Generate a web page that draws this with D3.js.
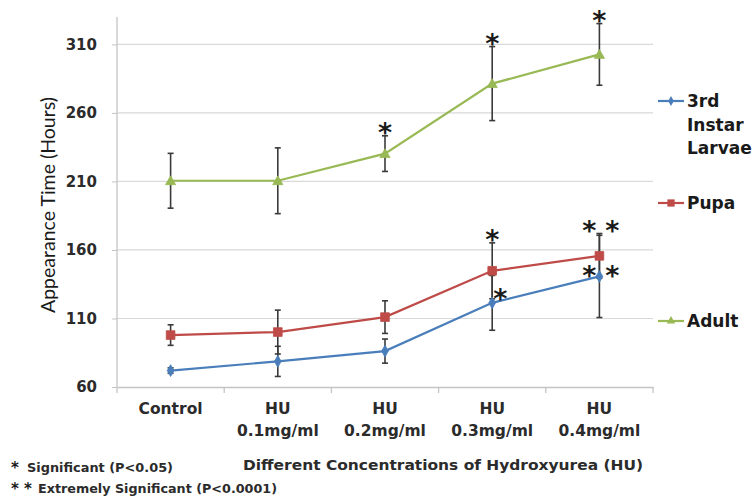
<!DOCTYPE html>
<html><head><meta charset="utf-8">
<script src="https://cdn.jsdelivr.net/npm/d3@7/dist/d3.min.js"></script>
<style>body{margin:0;background:#fff}svg{display:block}</style>
</head><body>
<svg id="c" width="753" height="498"></svg>
<script>
const categories = ["Control", "HU\n0.1mg/ml", "HU\n0.2mg/ml", "HU\n0.3mg/ml", "HU\n0.4mg/ml"];
const larvaeValues = [72, 78.7, 86.2, 121.4, 140.7];
const larvaeErrors = [2, 11, 8.8, 20, 30];
const pupaValues = [97.9, 100.1, 111, 144.8, 155.7];
const pupaErrors = [7.5, 16, 11.9, 20.4, 16.3];
const adultValues = [210.5, 210.5, 230.3, 281.4, 302.7];
const adultErrors = [20, 24, 13, 27, 22.5];
const larvaeSig = ["", "", "", "*", "**"];
const pupaSig = ["", "", "", "*", "**"];
const adultSig = ["", "", "*", "*", "*"];
const yTicks = [60, 110, 160, 210, 260, 310];
const seriesNames = [["3rd", "Instar", "Larvae"], ["Pupa"], ["Adult"]];
const yTitle = "Appearance Time (Hours)";
const xTitle = "Different Concentrations of Hydroxyurea (HU)";
const footnotes = [["*", "Significant (P<0.05)"], ["**", "Extremely Significant (P<0.0001)"]];

const svg = d3.select("#c");
const L = 117, R = 653, T = 17, B = 387;
const x = d3.scaleBand().domain(categories).range([L, R]).padding(0);
const y = d3.scaleLinear().domain([60, 330]).range([B, T]);
const cx = c => x(c) + x.bandwidth() / 2;
const FONT = "'DejaVu Sans', sans-serif";

// gridlines
svg.append("g").selectAll("line").data(yTicks.slice(1)).join("line")
  .attr("x1", L).attr("x2", R).attr("y1", d => y(d)).attr("y2", d => y(d))
  .attr("stroke", "#d9d9d9").attr("stroke-width", 1.2);

// y axis
const ya = svg.append("g").attr("transform", `translate(${L},0)`)
  .call(d3.axisLeft(y).tickValues(yTicks).tickSize(5).tickFormat(d3.format("d")));
ya.select(".domain").attr("stroke", "#c4c4c4").attr("stroke-width", 1.3).attr("d", `M0,${T}V${B}`);
ya.selectAll(".tick line").attr("stroke", "#c4c4c4");
ya.selectAll(".tick text").attr("x", -20).attr("font-family", FONT).attr("font-weight", "bold")
  .attr("font-size", 15).attr("fill", "#2b2b2b");

// x axis
const xa = svg.append("g").attr("transform", `translate(0,${B})`)
  .call(d3.axisBottom(x).tickSize(0).tickFormat(""));
xa.select(".domain").attr("stroke", "#c4c4c4").attr("stroke-width", 1.3);
xa.selectAll(".tick").remove();
svg.append("g").selectAll("line").data(categories.concat(["end"])).join("line")
  .attr("x1", (d, i) => i < categories.length ? x(d) : R)
  .attr("x2", (d, i) => i < categories.length ? x(d) : R)
  .attr("y1", B).attr("y2", B + 6).attr("stroke", "#c4c4c4").attr("stroke-width", 1.3);
categories.forEach(c => {
  const lines = c.split("\n");
  const t = svg.append("text").attr("text-anchor", "middle").attr("font-family", FONT)
    .attr("font-weight", "bold").attr("font-size", 15.5).attr("fill", "#2b2b2b");
  lines.forEach((s, i) => t.append("tspan").attr("x", cx(c)).attr("y", 414 + i * 22).text(s));
});

// titles
svg.append("text").attr("transform", "translate(55,205) rotate(-90)").attr("text-anchor", "middle")
  .attr("font-family", "Lato, sans-serif").attr("font-size", 20).attr("fill", "#1a1a1a")
  .attr("textLength", 216).attr("lengthAdjust", "spacingAndGlyphs").text(yTitle);
svg.append("text").attr("x", 443).attr("y", 470).attr("text-anchor", "middle")
  .attr("font-family", FONT).attr("font-weight", "bold").attr("font-size", 13.5).attr("fill", "#2b2b2b")
  .attr("textLength", 400).attr("lengthAdjust", "spacingAndGlyphs").text(xTitle);

// footnotes
footnotes.forEach((f, i) => {
  const yy = 472 + i * 21;
  svg.append("text").attr("x", 11).attr("y", yy + 1).attr("font-family", FONT).attr("font-weight", "bold")
    .attr("font-size", 15).attr("fill", "#1a1a1a").text(f[0].split("").join(" "));
  svg.append("text").attr("x", i === 0 ? 27 : 38).attr("y", yy).attr("font-family", FONT).attr("font-weight", "bold")
    .attr("font-size", 11.5).attr("fill", "#2b2b2b")
    .attr("textLength", i === 0 ? 146 : 239).attr("lengthAdjust", "spacingAndGlyphs").text(f[1]);
});

const series = [
  {vals: larvaeValues, errs: larvaeErrors, sig: larvaeSig, color: "#4a7ebb", marker: "diamond", atPoint: true},
  {vals: pupaValues, errs: pupaErrors, sig: pupaSig, color: "#be4b48", marker: "square", atPoint: false},
  {vals: adultValues, errs: adultErrors, sig: adultSig, color: "#98b954", marker: "triangle", atPoint: false}
];
const symType = {diamond: d3.symbolDiamond, square: d3.symbolSquare, triangle: d3.symbolTriangle};
const symSize = {diamond: 40, square: 75, triangle: 45};

const line = d3.line().x((d, i) => cx(categories[i])).y(d => y(d));
series.forEach(s => {
  svg.append("path").attr("d", line(s.vals)).attr("fill", "none").attr("stroke", s.color).attr("stroke-width", 2.2);
});
series.forEach(s => {
  const g = svg.append("g").attr("stroke", "#3a3a3a").attr("stroke-width", 1.6);
  s.vals.forEach((v, i) => {
    const xx = cx(categories[i]);
    g.append("line").attr("x1", xx).attr("x2", xx).attr("y1", y(v - s.errs[i])).attr("y2", y(v + s.errs[i]));
    [v - s.errs[i], v + s.errs[i]].forEach(e =>
      g.append("line").attr("x1", xx - 3).attr("x2", xx + 3).attr("y1", y(e)).attr("y2", y(e)));
  });
});
series.forEach(s => {
  svg.append("g").selectAll("path").data(s.vals).join("path")
    .attr("d", d3.symbol().type(symType[s.marker]).size(symSize[s.marker]))
    .attr("transform", (d, i) => `translate(${cx(categories[i])},${y(d) + (s.marker === "triangle" ? 1 : 0)})`)
    .attr("fill", s.color).attr("stroke", s.color).attr("stroke-width", 0.8);
});

// significance marks
series.forEach(s => {
  s.vals.forEach((v, i) => {
    const m = s.sig[i];
    if (!m) return;
    const xx = cx(categories[i]);
    let yc, offs;
    if (s.atPoint) {
      yc = m.length === 2 ? y(v) - 5 : y(v) - 9;
      offs = m.length === 2 ? [-10, 13] : [8];
    } else {
      yc = y(v + s.errs[i]) - 7.5;
      offs = m.length === 2 ? [-10, 13] : [0];
    }
    offs.forEach(o => svg.append("text").attr("x", xx + o).attr("y", yc + 14).attr("text-anchor", "middle")
      .attr("font-family", FONT).attr("font-weight", "bold").attr("font-size", 27).attr("fill", "#1a1a1a").text("*"));
  });
});

// legend
const legY = [101, 203, 321];
series.forEach((s, k) => {
  const g = svg.append("g");
  g.append("line").attr("x1", 658).attr("x2", 684).attr("y1", legY[k]).attr("y2", legY[k])
    .attr("stroke", s.color).attr("stroke-width", 2.2);
  g.append("path").attr("d", d3.symbol().type(symType[s.marker]).size(symSize[s.marker] * 0.7))
    .attr("transform", `translate(671,${legY[k]})`).attr("fill", s.color);
  seriesNames[k].forEach((n, j) => g.append("text").attr("x", 687).attr("y", legY[k] + 6 + j * 23.5)
    .attr("font-family", FONT).attr("font-weight", "bold").attr("font-size", 17).attr("fill", "#1a1a1a").text(n));
});
</script>
</body></html>
